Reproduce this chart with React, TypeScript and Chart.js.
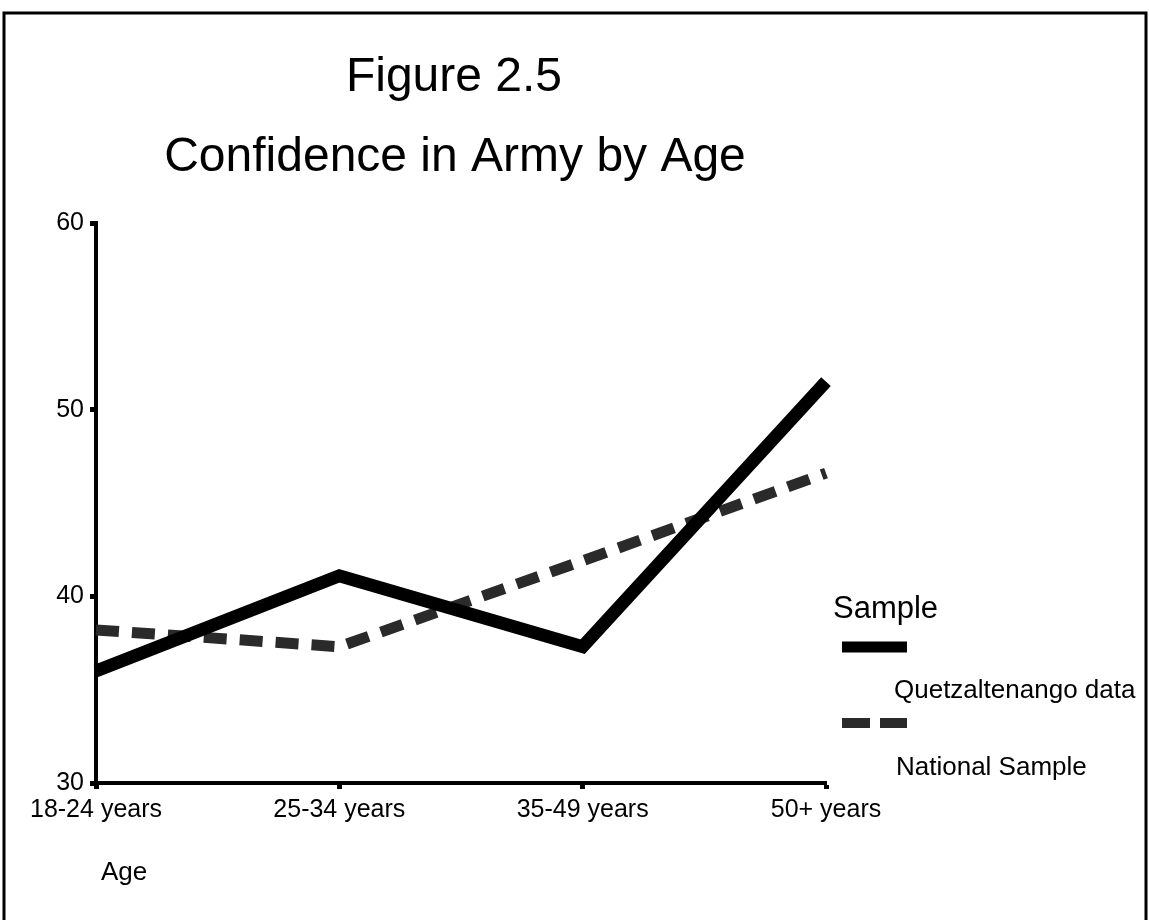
import React, { useEffect, useRef } from "react";
import { Chart, registerables } from "chart.js";

Chart.register(...registerables);

const categories = ["18-24 years", "25-34 years", "35-49 years", "50+ years"];
const quetzaltenango = [36.0, 41.1, 37.3, 51.5];
const nationalSample = [38.2, 37.3, 41.9, 46.6];
const yTicks = [30, 40, 50, 60];
const titleText = "Figure 2.5";
const subtitleText = "Confidence in Army by Age";
const legendTitle = "Sample";
const seriesNames = ["Quetzaltenango data", "National Sample"];
const xAxisTitle = "Age";

const FONT = "'Liberation Sans', Arial, Helvetica, sans-serif";

const decorPlugin = {
  id: "decor",
  afterDraw(chart: any) {
    const ctx = chart.ctx as CanvasRenderingContext2D;
    ctx.save();
    // frame
    ctx.strokeStyle = "#000";
    ctx.lineWidth = 3;
    ctx.beginPath();
    ctx.moveTo(4, 925);
    ctx.lineTo(4, 13);
    ctx.lineTo(1146, 13);
    ctx.lineTo(1146, 925);
    ctx.stroke();

    ctx.fillStyle = "#000";
    ctx.textBaseline = "alphabetic";
    ctx.textAlign = "center";
    ctx.font = `48px ${FONT}`;
    ctx.fillText(titleText, 454, 91);
    ctx.fillText(subtitleText, 455, 171);

    // legend
    ctx.textAlign = "left";
    ctx.font = `31px ${FONT}`;
    ctx.fillText(legendTitle, 833, 618);

    ctx.lineCap = "butt";
    ctx.strokeStyle = "#000";
    ctx.lineWidth = 11;
    ctx.beginPath();
    ctx.moveTo(842, 647);
    ctx.lineTo(907, 647);
    ctx.stroke();

    ctx.strokeStyle = "#2a2a2a";
    ctx.lineWidth = 10;
    ctx.setLineDash([28, 10]);
    ctx.beginPath();
    ctx.moveTo(842, 723);
    ctx.lineTo(907, 723);
    ctx.stroke();
    ctx.setLineDash([]);

    ctx.font = `26px ${FONT}`;
    ctx.fillText(seriesNames[0], 894, 698);
    ctx.fillText(seriesNames[1], 896, 775);

    ctx.fillText(xAxisTitle, 101, 880);
    ctx.restore();
  },
};

export default function App() {
  const canvasRef = useRef<HTMLCanvasElement | null>(null);

  useEffect(() => {
    document.body.style.margin = "0";
    const canvas = canvasRef.current;
    if (!canvas) return;
    const chart = new Chart(canvas, {
      type: "line",
      data: {
        labels: categories,
        datasets: [
          {
            label: seriesNames[0],
            data: quetzaltenango,
            borderColor: "#000",
            borderWidth: 13,
            borderCapStyle: "butt",
            borderJoinStyle: "miter",
            pointRadius: 0,
            tension: 0,
            fill: false,
          },
          {
            label: seriesNames[1],
            data: nationalSample,
            borderColor: "#2a2a2a",
            borderWidth: 11,
            borderDash: [23, 13],
            borderCapStyle: "butt",
            borderJoinStyle: "miter",
            pointRadius: 0,
            tension: 0,
            fill: false,
          },
        ],
      },
      options: {
        animation: false,
        responsive: false,
        maintainAspectRatio: false,
        layout: { padding: { left: 0, right: 323, top: 223, bottom: 0 } },
        plugins: {
          legend: { display: false },
          title: { display: false },
          tooltip: { enabled: false },
        },
        scales: {
          x: {
            type: "category",
            offset: false,
            grid: {
              display: true,
              drawOnChartArea: false,
              drawTicks: true,
              tickLength: 6,
              tickWidth: 5,
              tickColor: "#000",
            },
            border: { display: true, color: "#000", width: 4 },
            ticks: {
              color: "#000",
              font: { family: FONT, size: 25 },
              padding: 6,
              maxRotation: 0,
              autoSkip: false,
            },
            afterFit(scale: any) {
              scale.height = 920 - 783;
            },
          },
          y: {
            type: "linear",
            min: 30,
            max: 60,
            afterBuildTicks(scale: any) {
              scale.ticks = yTicks.map((v) => ({ value: v }));
            },
            grid: {
              display: true,
              drawOnChartArea: false,
              drawTicks: true,
              tickLength: 6,
              tickWidth: 5,
              tickColor: "#000",
            },
            border: { display: true, color: "#000", width: 4 },
            ticks: {
              color: "#000",
              font: { family: FONT, size: 25 },
              padding: 6,
            },
            afterFit(scale: any) {
              scale.width = 96;
            },
          },
        },
      },
      plugins: [decorPlugin],
    });
    return () => chart.destroy();
  }, []);

  return (
    <div style={{ width: 1149, height: 920, position: "relative" }}>
      <canvas ref={canvasRef} width={1149} height={920} style={{ display: "block" }} />
    </div>
  );
}
